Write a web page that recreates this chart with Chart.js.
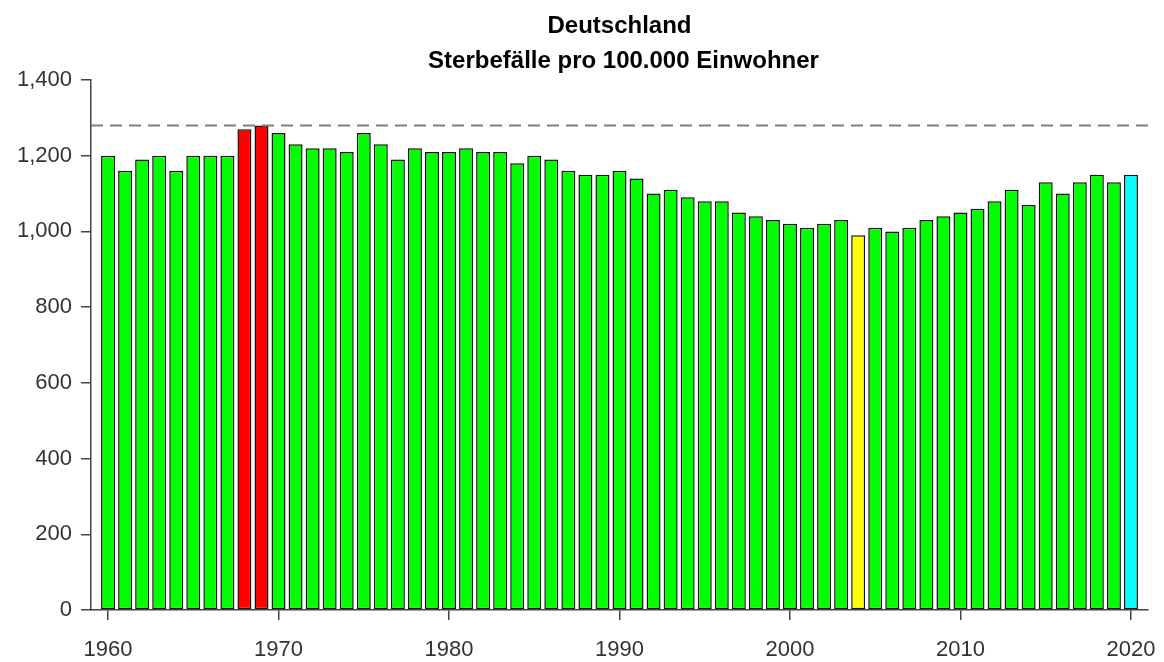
<!DOCTYPE html>
<html>
<head>
<meta charset="utf-8">
<title>Deutschland – Sterbefälle pro 100.000 Einwohner</title>
<script src="https://cdn.jsdelivr.net/npm/chart.js@4/dist/chart.umd.min.js"></script>
<style>
  html, body { margin: 0; padding: 0; background: #fff; }
  canvas { display: block; }
</style>
</head>
<body>
<canvas id="deathChart" width="1164" height="662"></canvas>
<script>
  // Sterbefälle je 100.000 Einwohner, 1960 bis 2020
  const years = [];
  for (let y = 1960; y <= 2020; y++) years.push(y);

  const deathRate = [
    1200, 1160, 1190, 1200, 1160, 1200, 1200, 1200, 1270, 1280, // 1960-1969
    1260, 1230, 1220, 1220, 1210, 1260, 1230, 1190, 1220, 1210, // 1970-1979
    1210, 1220, 1210, 1210, 1180, 1200, 1190, 1160, 1150, 1150, // 1980-1989
    1160, 1140, 1100, 1110, 1090, 1080, 1080, 1050, 1040, 1030, // 1990-1999
    1020, 1010, 1020, 1030, 990, 1010, 1000, 1010, 1030, 1040,  // 2000-2009
    1050, 1060, 1080, 1110, 1070, 1130, 1100, 1130, 1150, 1130, // 2010-2019
    1150                                                        // 2020
  ];

  const peakYears = [1968, 1969];
  const lowYears = [2004];
  const currentYears = [2020];
  const referenceLine = 1280;

  const xTickYears = [1960, 1970, 1980, 1990, 2000, 2010, 2020];
  const yTicks = [0, 200, 400, 600, 800, 1000, 1200, 1400];

  function barColor(year) {
    if (peakYears.includes(year)) return '#ff0000';
    if (lowYears.includes(year)) return '#ffff00';
    if (currentYears.includes(year)) return '#00ffff';
    return '#00ff00';
  }

  Chart.defaults.font.family = '"Liberation Sans", Arial, Helvetica, sans-serif';

  // dashed reference line plus the two-line heading
  const extras = {
    id: 'extras',
    afterDatasetsDraw(chart) {
      const { ctx, chartArea, scales } = chart;
      const y = scales.y.getPixelForValue(referenceLine);
      ctx.save();
      ctx.strokeStyle = '#7f7f7f';
      ctx.lineWidth = 2;
      ctx.setLineDash([12, 7]);
      ctx.beginPath();
      ctx.moveTo(chartArea.left, y);
      ctx.lineTo(chartArea.right, y);
      ctx.stroke();
      ctx.restore();

      const cx = (chartArea.left + chartArea.right) / 2;
      ctx.save();
      ctx.fillStyle = '#000';
      ctx.font = 'bold 24px "Liberation Sans", Arial, sans-serif';
      ctx.textAlign = 'center';
      ctx.textBaseline = 'alphabetic';
      ctx.fillText('Deutschland', cx, 33);
      ctx.fillText('Sterbefälle pro 100.000 Einwohner', cx + 4, 68);
      ctx.restore();
    }
  };

  const chart = new Chart(document.getElementById('deathChart').getContext('2d'), {
    type: 'bar',
    data: {
      datasets: [{
        label: 'Sterbefälle pro 100.000 Einwohner',
        data: years.map((y, i) => ({ x: y, y: deathRate[i] })),
        backgroundColor: years.map(barColor),
        borderColor: '#111',
        borderWidth: 1.5,
        borderSkipped: false,
        categoryPercentage: 1,
        barPercentage: 0.82
      }]
    },
    options: {
      responsive: false,
      devicePixelRatio: 1,
      animation: false,
      layout: { padding: { top: 80, right: 16, bottom: 0, left: 0 } },
      plugins: {
        legend: { display: false },
        title: { display: false },
        tooltip: { enabled: false }
      },
      scales: {
        x: {
          type: 'linear',
          min: 1959,
          max: 2021,
          offset: false,
          afterBuildTicks: s => { s.ticks = xTickYears.map(v => ({ value: v })); },
          afterFit: s => {
            s.height = 52;
            s.paddingLeft = 0;
            s.paddingRight = 0;
          },
          grid: { offset: false, drawOnChartArea: false, drawTicks: true, tickLength: 10, color: '#444', lineWidth: 1.5 },
          border: { display: true, color: '#444', width: 1.5 },
          ticks: {
            color: '#333',
            padding: 17,
            maxRotation: 0,
            font: { size: 22 },
            callback: v => String(v)
          }
        },
        y: {
          min: 0,
          max: 1400,
          afterBuildTicks: s => { s.ticks = yTicks.map(v => ({ value: v })); },
          afterFit: s => { s.width = 91; },
          grid: { drawOnChartArea: false, drawTicks: true, tickLength: 10, color: '#444', lineWidth: 1.5 },
          border: { display: true, color: '#444', width: 1.5 },
          ticks: {
            color: '#333',
            padding: 9,
            font: { size: 22 },
            callback: v => v.toLocaleString('en-US')
          }
        }
      }
    },
    plugins: [extras]
  });
</script>
</body>
</html>
